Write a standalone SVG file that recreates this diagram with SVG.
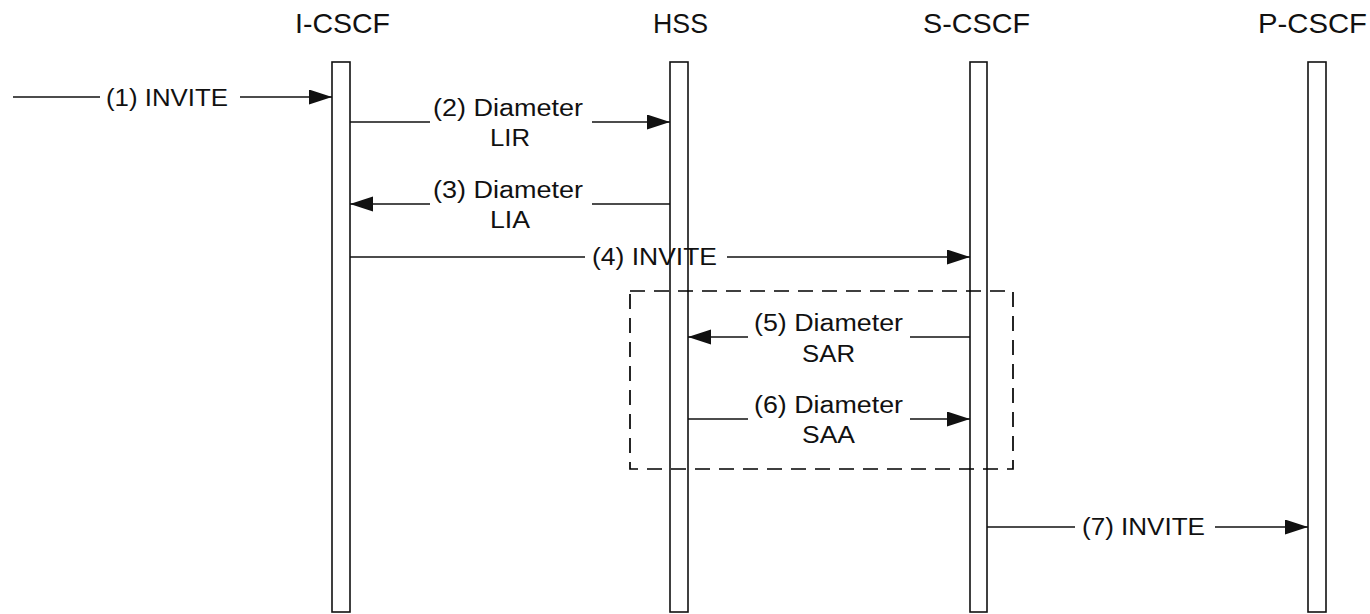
<svg xmlns="http://www.w3.org/2000/svg" width="1370" height="614" viewBox="0 0 1370 614">
<style>
.title{font-family:"Liberation Sans",Arial,sans-serif;font-size:28px;fill:#111;}
.lbl{font-family:"Liberation Sans",Arial,sans-serif;font-size:23px;fill:#111;}
.bar{fill:#fff;stroke:#111;stroke-width:1.6;}
.msg{stroke:#111;stroke-width:1.5;fill:none;}
.arr{marker-end:url(#ah);}
</style>
<defs>
<marker id="ah" markerUnits="userSpaceOnUse" markerWidth="23" markerHeight="16" refX="23" refY="7.5" orient="auto">
<path d="M0,0 L23,7.5 L0,15 z" fill="#111"/>
</marker>
</defs>
<rect width="1370" height="614" fill="#fff"/>
<g id="icscf">
<text class="title" x="295" y="33" textLength="95" lengthAdjust="spacingAndGlyphs">I-CSCF</text>
<rect class="bar" x="332" y="62" width="18" height="550"/>
</g>
<g id="hss">
<text class="title" x="653" y="33" textLength="55" lengthAdjust="spacingAndGlyphs">HSS</text>
<rect class="bar" x="670" y="62" width="18" height="550"/>
</g>
<g id="scscf">
<text class="title" x="923" y="33" textLength="107" lengthAdjust="spacingAndGlyphs">S-CSCF</text>
<rect class="bar" x="970" y="62" width="17" height="550"/>
</g>
<g id="pcscf">
<text class="title" x="1258" y="33" textLength="109" lengthAdjust="spacingAndGlyphs">P-CSCF</text>
<rect class="bar" x="1308" y="62" width="18" height="550"/>
</g>
<g id="box">
<rect x="630" y="291" width="383" height="178" fill="none" stroke="#000" stroke-width="1.7" stroke-dasharray="15 9"/>
</g>
<g id="connectors">
<line class="msg" x1="13" y1="97" x2="100" y2="97"/>
<line class="msg arr" x1="240" y1="97" x2="332" y2="97"/>
<text class="lbl" x="106" y="106" textLength="122" lengthAdjust="spacingAndGlyphs">(1) INVITE</text>

<line class="msg" x1="350" y1="122" x2="430" y2="122"/>
<line class="msg arr" x1="592" y1="122" x2="670" y2="122"/>
<text class="lbl" x="433" y="116" textLength="150" lengthAdjust="spacingAndGlyphs">(2) Diameter</text>
<text class="lbl" x="490" y="146" textLength="40" lengthAdjust="spacingAndGlyphs">LIR</text>

<line class="msg arr" x1="430" y1="204" x2="350" y2="204"/>
<line class="msg" x1="592" y1="204" x2="670" y2="204"/>
<text class="lbl" x="433" y="198" textLength="150" lengthAdjust="spacingAndGlyphs">(3) Diameter</text>
<text class="lbl" x="490" y="228" textLength="40" lengthAdjust="spacingAndGlyphs">LIA</text>

<line class="msg" x1="350" y1="257" x2="585" y2="257"/>
<line class="msg arr" x1="727" y1="257" x2="970" y2="257"/>
<text class="lbl" x="592" y="265" textLength="125" lengthAdjust="spacingAndGlyphs">(4) INVITE</text>

<line class="msg arr" x1="748" y1="337" x2="688" y2="337"/>
<line class="msg" x1="910" y1="337" x2="970" y2="337"/>
<text class="lbl" x="754" y="331" textLength="149" lengthAdjust="spacingAndGlyphs">(5) Diameter</text>
<text class="lbl" x="802" y="362" textLength="53" lengthAdjust="spacingAndGlyphs">SAR</text>

<line class="msg" x1="688" y1="419" x2="748" y2="419"/>
<line class="msg arr" x1="910" y1="419" x2="970" y2="419"/>
<text class="lbl" x="754" y="413" textLength="149" lengthAdjust="spacingAndGlyphs">(6) Diameter</text>
<text class="lbl" x="802" y="443" textLength="53" lengthAdjust="spacingAndGlyphs">SAA</text>

<line class="msg" x1="987" y1="527" x2="1075" y2="527"/>
<line class="msg arr" x1="1215" y1="527" x2="1308" y2="527"/>
<text class="lbl" x="1082" y="535" textLength="123" lengthAdjust="spacingAndGlyphs">(7) INVITE</text>
</g>
</svg>
